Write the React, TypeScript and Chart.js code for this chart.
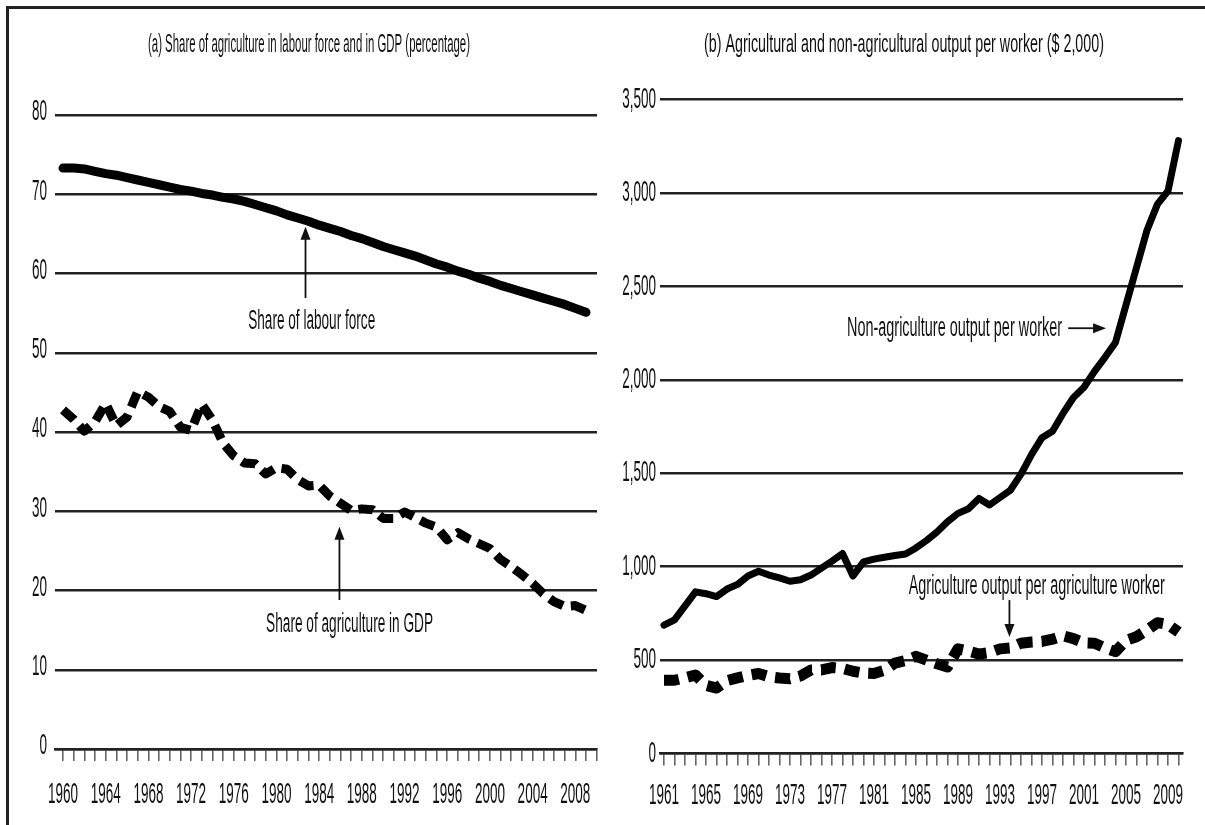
import React, { useEffect, useRef } from 'react';
import { Chart, registerables } from 'chart.js';

Chart.register(...registerables);

// ---------- Panel (a) data ----------
const titleA = '(a) Share of agriculture in labour force and in GDP (percentage)';
const yearsA = [1960, 1961, 1962, 1963, 1964, 1965, 1966, 1967, 1968, 1969, 1970, 1971, 1972, 1973, 1974, 1975, 1976, 1977, 1978, 1979, 1980, 1981, 1982, 1983, 1984, 1985, 1986, 1987, 1988, 1989, 1990, 1991, 1992, 1993, 1994, 1995, 1996, 1997, 1998, 1999, 2000, 2001, 2002, 2003, 2004, 2005, 2006, 2007, 2008, 2009];
const laborShare = [73.3, 73.3, 73.2, 72.9, 72.6, 72.4, 72.1, 71.8, 71.5, 71.2, 70.9, 70.6, 70.4, 70.1, 69.9, 69.6, 69.4, 69.1, 68.7, 68.3, 67.9, 67.4, 67.0, 66.6, 66.1, 65.7, 65.3, 64.8, 64.4, 63.9, 63.4, 63.0, 62.6, 62.2, 61.7, 61.2, 60.8, 60.3, 59.9, 59.4, 59.0, 58.5, 58.1, 57.7, 57.3, 56.9, 56.5, 56.1, 55.6, 55.1];
const gdpShare = [42.8, 41.6, 40.1, 41.3, 43.6, 40.8, 41.9, 45.1, 44.4, 43.2, 42.6, 40.6, 40.2, 43.5, 41.5, 38.6, 37.0, 36.1, 36.0, 34.7, 35.5, 35.3, 34.0, 33.2, 33.3, 31.9, 31.0, 30.1, 30.3, 30.2, 29.1, 29.1, 29.9, 29.2, 28.5, 28.0, 26.4, 27.3, 26.5, 25.9, 25.3, 23.9, 23.0, 22.0, 20.9, 19.6, 18.6, 18.0, 18.1, 17.5];
const xTicksA = [1960, 1961, 1962, 1963, 1964, 1965, 1966, 1967, 1968, 1969, 1970, 1971, 1972, 1973, 1974, 1975, 1976, 1977, 1978, 1979, 1980, 1981, 1982, 1983, 1984, 1985, 1986, 1987, 1988, 1989, 1990, 1991, 1992, 1993, 1994, 1995, 1996, 1997, 1998, 1999, 2000, 2001, 2002, 2003, 2004, 2005, 2006, 2007, 2008, 2009, 2010];
const xLabelsA = [1960, 1964, 1968, 1972, 1976, 1980, 1984, 1988, 1992, 1996, 2000, 2004, 2008];
const yTicksA = [0, 10, 20, 30, 40, 50, 60, 70, 80];
const labelLabour = 'Share of labour force';
const labelGdp = 'Share of agriculture in GDP';

// ---------- Panel (b) data ----------
const titleB = '(b) Agricultural and non-agricultural output per worker ($ 2,000)';
const yearsB = [1961, 1962, 1963, 1964, 1965, 1966, 1967, 1968, 1969, 1970, 1971, 1972, 1973, 1974, 1975, 1976, 1977, 1978, 1979, 1980, 1981, 1982, 1983, 1984, 1985, 1986, 1987, 1988, 1989, 1990, 1991, 1992, 1993, 1994, 1995, 1996, 1997, 1998, 1999, 2000, 2001, 2002, 2003, 2004, 2005, 2006, 2007, 2008, 2009, 2010];
const nonAgOutput = [687, 715, 790, 865, 855, 840, 880, 905, 950, 975, 955, 940, 922, 930, 955, 992, 1030, 1070, 950, 1025, 1040, 1050, 1060, 1068, 1100, 1140, 1185, 1240, 1285, 1310, 1365, 1330, 1370, 1410, 1495, 1600, 1690, 1725, 1820, 1905, 1960, 2045, 2120, 2200, 2400, 2600, 2800, 2940, 3010, 3280];
const agOutput = [392, 392, 405, 420, 365, 350, 390, 405, 418, 428, 411, 404, 400, 415, 447, 447, 460, 455, 440, 430, 428, 445, 484, 497, 520, 500, 480, 463, 560, 548, 532, 540, 560, 565, 590, 597, 600, 612, 630, 615, 592, 590, 565, 545, 605, 625, 660, 700, 690, 650];
const xTicksB = [1961, 1962, 1963, 1964, 1965, 1966, 1967, 1968, 1969, 1970, 1971, 1972, 1973, 1974, 1975, 1976, 1977, 1978, 1979, 1980, 1981, 1982, 1983, 1984, 1985, 1986, 1987, 1988, 1989, 1990, 1991, 1992, 1993, 1994, 1995, 1996, 1997, 1998, 1999, 2000, 2001, 2002, 2003, 2004, 2005, 2006, 2007, 2008, 2009, 2010];
const xLabelsB = [1961, 1965, 1969, 1973, 1977, 1981, 1985, 1989, 1993, 1997, 2001, 2005, 2009];
const yTicksB = [0, 500, 1000, 1500, 2000, 2500, 3000, 3500];
const labelNonAg = 'Non-agriculture output per worker';
const labelAg = 'Agriculture output per agriculture worker';

// ---------- drawing helpers ----------
const FONT = '"Liberation Sans", Arimo, Arial, sans-serif';
const TEXT = '#111';

function drawScaled(ctx: CanvasRenderingContext2D, text: string, x: number, y: number, size: number, sx: number, align: string) {
  ctx.save();
  ctx.font = `${size}px ${FONT}`;
  ctx.fillStyle = TEXT;
  ctx.textBaseline = 'middle';
  ctx.textAlign = 'left';
  const w = ctx.measureText(text).width * sx;
  const left = align === 'center' ? x - w / 2 : align === 'right' ? x - w : x;
  ctx.translate(left, y);
  ctx.scale(sx, 1);
  ctx.fillText(text, 0, 0);
  ctx.restore();
}

function drawFit(ctx: CanvasRenderingContext2D, text: string, x: number, y: number, size: number, width: number, align: string) {
  ctx.save();
  ctx.font = `${size}px ${FONT}`;
  const sx = width / ctx.measureText(text).width;
  ctx.restore();
  drawScaled(ctx, text, x, y, size, sx, align);
}

function drawArrow(ctx: CanvasRenderingContext2D, x1: number, y1: number, x2: number, y2: number) {
  const ang = Math.atan2(y2 - y1, x2 - x1);
  const head = 13;
  const half = 5;
  ctx.save();
  ctx.strokeStyle = '#111';
  ctx.fillStyle = '#111';
  ctx.lineWidth = 1.8;
  ctx.beginPath();
  ctx.moveTo(x1, y1);
  ctx.lineTo(x2 - Math.cos(ang) * head * 0.8, y2 - Math.sin(ang) * head * 0.8);
  ctx.stroke();
  ctx.beginPath();
  ctx.moveTo(x2, y2);
  ctx.lineTo(x2 - Math.cos(ang) * head - Math.sin(ang) * half, y2 - Math.sin(ang) * head + Math.cos(ang) * half);
  ctx.lineTo(x2 - Math.cos(ang) * head + Math.sin(ang) * half, y2 - Math.sin(ang) * head - Math.cos(ang) * half);
  ctx.closePath();
  ctx.fill();
  ctx.restore();
}

const textPluginA = {
  id: 'textA',
  afterDraw(chart: any) {
    const { ctx } = chart;
    const x = chart.scales.x;
    const y = chart.scales.y;
    drawFit(ctx, titleA, 300, 36, 26, 322, 'center');
    yTicksA.forEach((v) => drawScaled(ctx, String(v), 38, y.getPixelForValue(v) - 3, 30, 0.45, 'right'));
    xLabelsA.forEach((v) => drawScaled(ctx, String(v), x.getPixelForValue(v), 786, 30, 0.45, 'center'));
    // labour force annotation
    drawFit(ctx, labelLabour, x.getPixelForValue(1983.3), y.getPixelForValue(53.9), 27, 127, 'center');
    drawArrow(ctx, x.getPixelForValue(1982.72), y.getPixelForValue(56.9), x.getPixelForValue(1982.72), y.getPixelForValue(65.9));
    // gdp annotation
    drawFit(ctx, labelGdp, x.getPixelForValue(1986.85), y.getPixelForValue(15.65), 27, 167, 'center');
    drawArrow(ctx, x.getPixelForValue(1985.9), y.getPixelForValue(18.8), x.getPixelForValue(1985.9), y.getPixelForValue(28.05));
  },
};

const textPluginB = {
  id: 'textB',
  afterDraw(chart: any) {
    const { ctx } = chart;
    const x = chart.scales.x;
    const y = chart.scales.y;
    drawFit(ctx, titleB, 299, 36, 26, 400, 'center');
    yTicksB.forEach((v) => drawScaled(ctx, v.toLocaleString('en-US'), 51, y.getPixelForValue(v), 30, 0.45, 'right'));
    xLabelsB.forEach((v) => drawScaled(ctx, String(v), x.getPixelForValue(v), 787, 30, 0.45, 'center'));
    // non-agriculture annotation
    drawFit(ctx, labelNonAg, x.getPixelForValue(1988.67), y.getPixelForValue(2276), 27, 215, 'center');
    drawArrow(ctx, x.getPixelForValue(1999.5), y.getPixelForValue(2276), x.getPixelForValue(2003.1), y.getPixelForValue(2276));
    // agriculture annotation
    drawFit(ctx, labelAg, x.getPixelForValue(1996.5), y.getPixelForValue(891), 27, 256, 'center');
    drawArrow(ctx, x.getPixelForValue(1993.9), y.getPixelForValue(821), x.getPixelForValue(1993.9), y.getPixelForValue(623));
  },
};

function xScale(min: number, max: number, ticks: number[]) {
  return {
    type: 'linear',
    min,
    max,
    afterBuildTicks: (s: any) => {
      s.ticks = ticks.map((v) => ({ value: v }));
    },
    ticks: { display: false, autoSkip: false },
    grid: { drawOnChartArea: false, drawTicks: true, tickLength: 12, color: '#666', lineWidth: 1.6 },
    border: { display: true, color: '#222', width: 2.5 },
  };
}

function yScale(min: number, max: number, ticks: number[]) {
  return {
    type: 'linear',
    min,
    max,
    afterBuildTicks: (s: any) => {
      s.ticks = ticks.map((v) => ({ value: v }));
    },
    ticks: { display: false },
    grid: { drawTicks: false, color: '#222', lineWidth: 2.5 },
    border: { display: false },
  };
}

function configA(): any {
  return {
    type: 'line',
    data: {
      datasets: [
        {
          label: labelLabour,
          data: yearsA.map((yr, i) => ({ x: yr, y: laborShare[i] })),
          borderColor: '#000',
          borderWidth: 9,
          pointRadius: 0,
          tension: 0,
          borderCapStyle: 'round',
          borderJoinStyle: 'round',
        },
        {
          label: labelGdp,
          data: yearsA.map((yr, i) => ({ x: yr, y: gdpShare[i] })),
          borderColor: '#000',
          borderWidth: 9,
          borderDash: [15, 8],
          pointRadius: 0,
          tension: 0,
          borderCapStyle: 'butt',
          borderJoinStyle: 'round',
        },
      ],
    },
    options: {
      responsive: false,
      animation: false,
      layout: { padding: { left: 46, right: 8, top: 106, bottom: 64 } },
      plugins: { legend: { display: false }, tooltip: { enabled: false }, title: { display: false } },
      scales: { x: xScale(1959.25, 2010.03, xTicksA), y: yScale(0, 80, yTicksA) },
    },
    plugins: [textPluginA],
  };
}

function configB(): any {
  return {
    type: 'line',
    data: {
      datasets: [
        {
          label: labelNonAg,
          data: yearsB.map((yr, i) => ({ x: yr, y: nonAgOutput[i] })),
          borderColor: '#000',
          borderWidth: 7,
          pointRadius: 0,
          tension: 0,
          borderCapStyle: 'round',
          borderJoinStyle: 'round',
        },
        {
          label: labelAg,
          data: yearsB.map((yr, i) => ({ x: yr, y: agOutput[i] })),
          borderColor: '#000',
          borderWidth: 11,
          borderDash: [15, 9],
          pointRadius: 0,
          tension: 0,
          borderCapStyle: 'butt',
          borderJoinStyle: 'round',
        },
      ],
    },
    options: {
      responsive: false,
      animation: false,
      layout: { padding: { left: 55, right: 22, top: 90.5, bottom: 59.5 } },
      plugins: { legend: { display: false }, tooltip: { enabled: false }, title: { display: false } },
      scales: { x: xScale(1960.62, 2010.43, xTicksB), y: yScale(0, 3500, yTicksB) },
    },
    plugins: [textPluginB],
  };
}

export default function App() {
  const refA = useRef<HTMLCanvasElement>(null);
  const refB = useRef<HTMLCanvasElement>(null);
  useEffect(() => {
    const a = new Chart(refA.current as HTMLCanvasElement, configA());
    const b = new Chart(refB.current as HTMLCanvasElement, configB());
    return () => {
      a.destroy();
      b.destroy();
    };
  }, []);
  return (
    <div style={{ position: 'absolute', left: 0, top: 0, width: 1205, height: 825, background: '#fff', overflow: 'hidden' }}>
      <div
        style={{
          position: 'absolute',
          left: 6,
          top: 6,
          width: 1199,
          height: 819,
          borderTop: '3px solid #222',
          borderLeft: '3px solid #222',
          boxSizing: 'border-box',
        }}
      />
      <canvas ref={refA} width={596} height={816} style={{ position: 'absolute', left: 9, top: 9 }} />
      <canvas ref={refB} width={600} height={816} style={{ position: 'absolute', left: 605, top: 9 }} />
    </div>
  );
}
